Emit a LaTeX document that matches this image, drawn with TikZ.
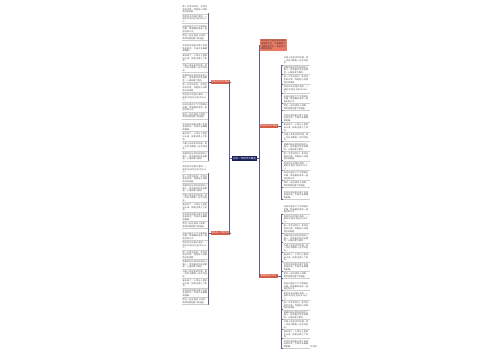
\documentclass[tikz,border=0pt]{standalone}
\usepackage{fontspec}
\newfontfamily\cjk{Noto Sans CJK SC}
\XeTeXlinebreaklocale "zh"
\XeTeXlinebreakskip=0pt plus 1pt
\usetikzlibrary{positioning}

\definecolor{navy}{HTML}{1B1F5E}
\definecolor{brick}{HTML}{D65A46}
\definecolor{salmon}{HTML}{EA7A62}
\definecolor{wirecol}{HTML}{5C6090}
\definecolor{leafgray}{HTML}{505050}

\newcommand\pickline[1]{\ifcase#1
清晨的阳光洒在校园的小路上，我背着书包走进教室，心里充满了期待。\or
妈妈总是在灯下为我缝补衣服，那温暖的身影一直留在我心中。\or
春天来了，小草从土里探出头来，柳树也换上了新衣。\or
那一次考试失利，老师没有批评我，而是耐心地帮我分析原因。\or
我们一起在操场上奔跑，笑声回荡在整个校园里。\or
书是人类进步的阶梯，每一本好书都像一位良师益友。\or
雨后的天空格外清新，一道彩虹挂在远处的山头上。\or
爷爷的花园里开满了各种各样的花，引来许多蝴蝶和蜜蜂。\fi}

\tikzset{
  root/.style={fill=navy, text=white, font=\cjk\fontsize{2.5}{3}\selectfont,
    minimum width=25pt, minimum height=5pt, inner sep=0.5pt},
  branch/.style={fill=brick, text=white, font=\cjk\fontsize{2.2}{2.6}\selectfont,
    minimum width=19pt, minimum height=4pt, inner sep=0.4pt},
  intro/.style={fill=salmon, text=black!80, text width=25pt, align=left,
    font=\cjk\fontsize{2.1}{2.6}\selectfont, inner sep=1pt},
  leaf/.style={text=leafgray, text width=25pt, align=left,
    font=\cjk\fontsize{2.1}{2.6}\selectfont, inner sep=0.6pt},
  wire/.style={draw=wirecol, line width=0.7pt},
  underline/.style={draw=black!20, line width=0.4pt},
}

\begin{document}
\begin{tikzpicture}[x=1pt,y=-1pt]
\useasboundingbox[fill=white] (0,0) rectangle (500,360);

% centre and main branches
\node[root] (root) at (244.5,158.5) {初中一年级作文精选};
\node[intro] (intro) at (273.5,45) {作文是学生表达思想感情的重要方式，下面整理了几篇优秀作文，希望对大家有所帮助。};
\node[branch] (lb1) at (220.5,82) {我的老师作文精选};
\node[branch] (lb2) at (220.5,233) {难忘的一件事作文};
\node[branch] (rb1) at (268.5,126) {我的妈妈作文精选};
\node[branch] (rb2) at (268.5,276) {美丽的春天作文};

\draw[wire] (root.west) -- ++(-2,0) coordinate (lj);
\draw[wire] (lj) |- (lb1.east);
\draw[wire] (lj) |- (lb2.east);
\draw[wire] (root.east) -- ++(2,0) coordinate (rj);
\draw[wire] (rj) |- (intro.west);
\draw[wire] (rj) |- (rb1.west);
\draw[wire] (rj) |- (rb2.west);

% leaves of the left branches
\foreach \i in {1,...,16}{
  \pgfmathtruncatemacro\k{mod(\i*3,8)}
  \node[leaf, anchor=north east] (la\i) at (208.5,{-4.8+\i*9.8}) {\pickline{\k}};
  \draw[underline] (la\i.south west) -- (la\i.south east);
  \draw[wire] (lb1.west) -- ++(-2,0) |- (la\i.south east);
}
\foreach \i in {1,...,15}{
  \pgfmathtruncatemacro\k{mod(\i*5+1,8)}
  \node[leaf, anchor=north east] (lc\i) at (208.5,{155.5+\i*9.5}) {\pickline{\k}};
  \draw[underline] (lc\i.south west) -- (lc\i.south east);
  \draw[wire] (lb2.west) -- ++(-2,0) |- (lc\i.south east);
}

% leaves of the right branches
\foreach \i in {1,...,15}{
  \pgfmathtruncatemacro\k{mod(\i*3+2,8)}
  \node[leaf, anchor=north west] (ra\i) at (283,{46.5+\i*9.6}) {\pickline{\k}};
  \draw[underline] (ra\i.south west) -- (ra\i.south east);
  \draw[wire] (rb1.east) -- ++(3,0) |- (ra\i.south west);
}
\foreach \i in {1,...,15}{
  \pgfmathtruncatemacro\k{mod(\i*5+4,8)}
  \node[leaf, anchor=north west] (rc\i) at (283,{195.5+\i*9.6}) {\pickline{\k}};
  \draw[underline] (rc\i.south west) -- (rc\i.south east);
  \draw[wire] (rb2.east) -- ++(3,0) |- (rc\i.south west);
}
\node[leaf, text width=, anchor=south west, text=black!70] (src) at (rc15.south east) {作文网};
\end{tikzpicture}
\end{document}
